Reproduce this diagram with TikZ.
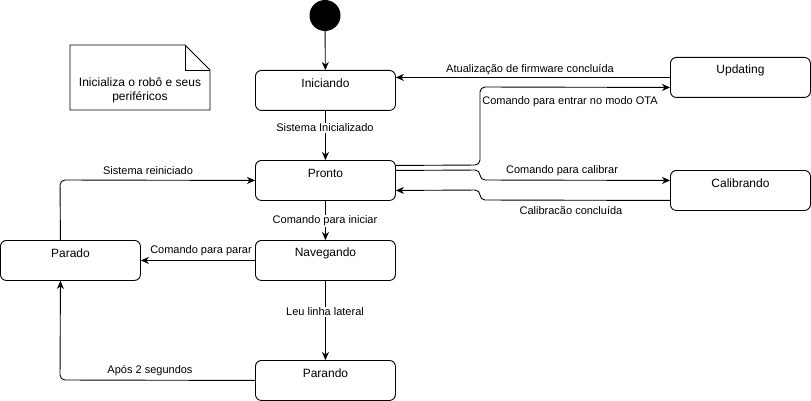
\documentclass[tikz,border=0pt]{standalone}
\usepackage{fontspec}
\setmainfont{Liberation Sans}
\usetikzlibrary{arrows.meta}
\begin{document}
\begin{tikzpicture}[x=1pt,y=-1pt,
  stbox/.style={draw, line width=0.9pt, rounded corners=6pt, minimum width=140pt, minimum height=40pt, inner sep=0pt, anchor=north west},
  sttext/.style={font=\fontsize{12}{14}\selectfont},
  edge/.style={draw, line width=0.9pt, rounded corners=5pt, -{Stealth[length=8pt,width=7pt,inset=2.5pt]}},
  lbl/.style={font=\fontsize{11}{13}\selectfont, inner sep=1pt},
  lblw/.style={lbl, fill=white}
]
\useasboundingbox (0,0) rectangle (811,401);
% initial state
\node[circle, fill=black, minimum size=31pt, inner sep=0pt] (init) at (325,15.5) {};
% note
\draw[line width=0.9pt] (70,45) -- (185,45) -- (210,70) -- (210,110) -- (70,110) -- cycle;
\draw[line width=0.9pt] (185,45) -- (185,70) -- (210,70);
\node[sttext, align=center] (note) at (140,90) {Inicializa o robô e seus\\periféricos};
% states
\node[stbox, label={[sttext, anchor=center, yshift=-13pt]north:Iniciando}] (ini) at (255,70) {};
\node[stbox, label={[sttext, anchor=center, yshift=-13pt]north:Pronto}] (pronto) at (255,160) {};
\node[stbox, label={[sttext, anchor=center, yshift=-13pt]north:Navegando}] (nav) at (255,240) {};
\node[stbox, label={[sttext, anchor=center, yshift=-13pt]north:Parando}] (parando) at (255,360) {};
\node[stbox, label={[sttext, anchor=center, yshift=-13pt]north:Parado}] (parado) at (0,240) {};
\node[stbox, label={[sttext, anchor=center, yshift=-13pt]north:Updating}] (upd) at (670,57) {};
\node[stbox, label={[sttext, anchor=center, yshift=-13pt]north:Calibrando}] (cal) at (670,170) {};
% edges
\draw[edge] (init) -- (ini);
\draw[edge] (ini) -- (pronto);
\node[lblw] (l1) at (325,128) {Sistema Inicializado};
\draw[edge] (pronto) -- (nav);
\node[lblw] (l2) at (325,221) {Comando para iniciar};
\draw[edge] (nav) -- (parando);
\node[lblw] (l3) at (325,312) {Leu linha lateral};
\draw[edge] (nav.west) -- (parado.east);
\node[lbl] (l4) at (201,251) {Comando para parar};
\draw[edge] (parando.west) -- (60,380) -- ([xshift=-10pt]parado.south);
\node[lbl] (l5) at (150,371) {Após 2 segundos};
\draw[edge] ([xshift=-10pt]parado.north) -- (60,180) -- (pronto.west);
\node[lbl] (l6) at (148,171) {Sistema reiniciado};
\draw[edge] (upd.west) -- (upd.west -| ini.east);
\node[lbl] (l7) at (530,70) {Atualização de firmware concluída};
\draw[edge] ([yshift=15pt]pronto.east) -- (480,165) -- (480,87) -- ([yshift=-10pt]upd.west);
\node[lbl] (l8) at (570,102) {Comando para entrar no modo OTA};
\draw[edge] ([yshift=10pt]pronto.east) -- (480,170) -- (480,180) -- ([yshift=10pt]cal.west);
\node[lbl] (l9) at (562,171) {Comando para calibrar};
\draw[edge] ([yshift=-10pt]cal.west) -- (480,200) -- (480,190) -- ([yshift=-10pt]pronto.east);
\node[lbl] (l10) at (571,211) {Calibracão concluída};
\end{tikzpicture}
\end{document}
